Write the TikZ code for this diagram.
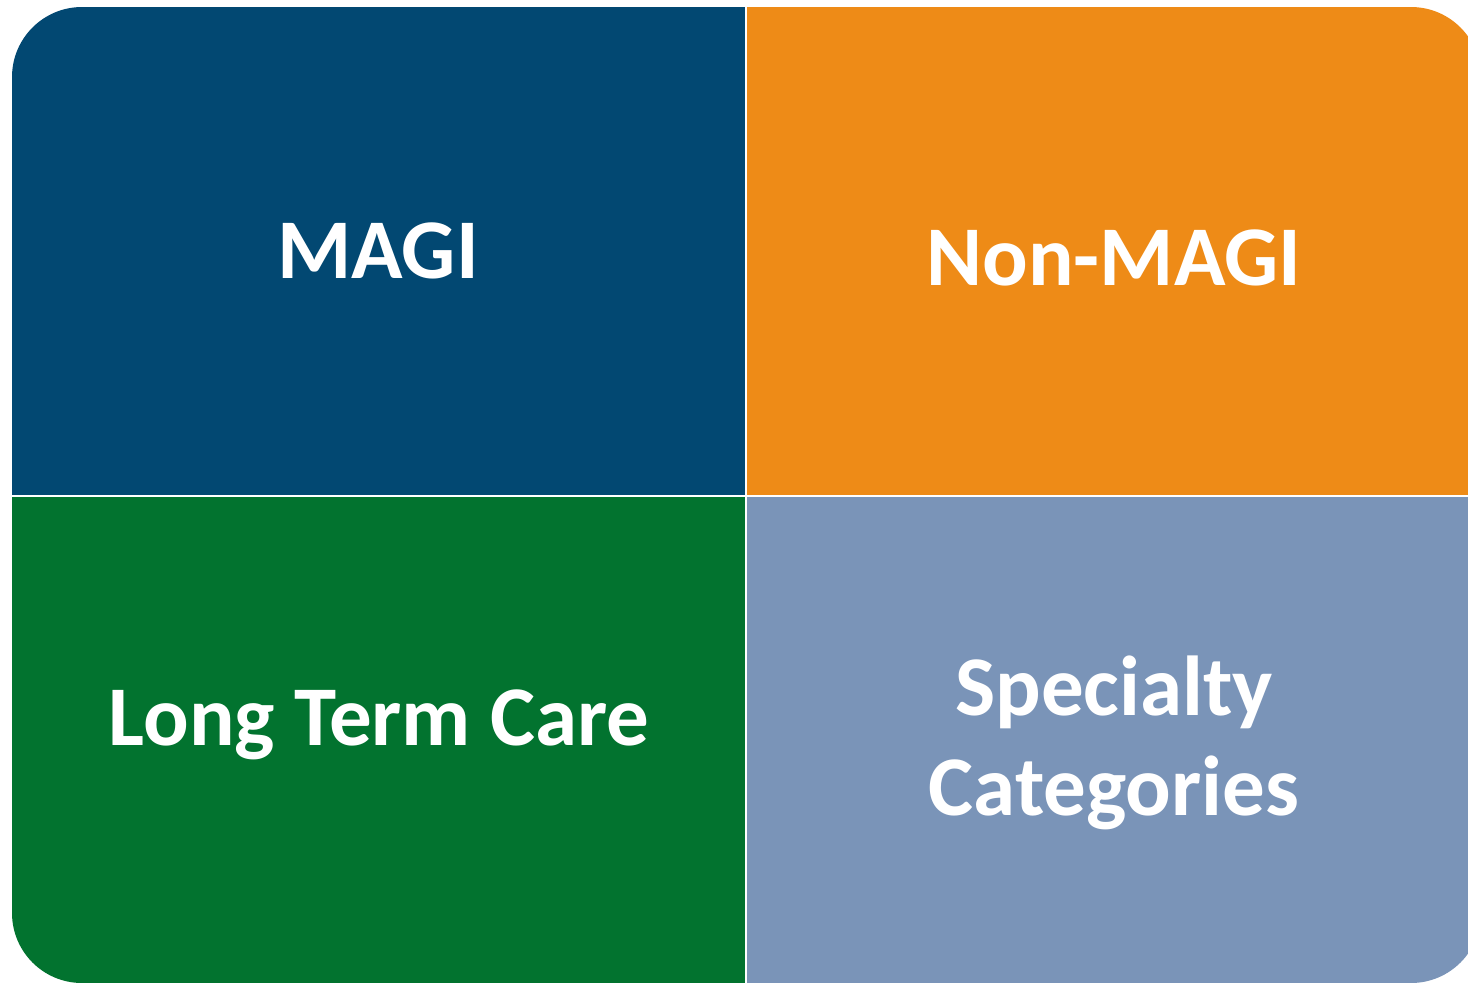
\documentclass[tikz,border=0pt]{standalone}
\usepackage{fontspec}
\setmainfont{Carlito}
\definecolor{magiblue}{HTML}{024872}
\definecolor{nonorange}{HTML}{EE8B17}
\definecolor{ltcgreen}{HTML}{02732F}
\definecolor{specblue}{HTML}{7A94B8}
\tikzset{
  lbl/.style={text=white, font=\fontsize{42.5}{50}\selectfont\bfseries, inner sep=0pt, align=center, anchor=base},
  quad/.style={draw=none}
}
\begin{document}
\begin{tikzpicture}[x=0.5pt,y=-0.5pt]
\useasboundingbox (0,0) rectangle (1468,982);
\begin{scope}
  \clip[rounded corners=35pt] (12,7) rectangle (1481,983);
  \fill[magiblue]  (12,7) rectangle (744.5,494.5);
  \fill[nonorange] (746.5,7) rectangle (1481,494.5);
  \fill[ltcgreen]  (12,496.5) rectangle (744.5,983);
  \fill[specblue]  (746.5,496.5) rectangle (1481,983);
\end{scope}
\node[lbl] (magi) at (378,278) {MAGI};
\node[lbl] (nonmagi) at (1114,285) {Non-MAGI};
\node[lbl] (ltc) at (379,745) {Long Term Care};
\node[lbl] (spec) at (1114,815) {Specialty\\Categories};
\end{tikzpicture}
\end{document}
